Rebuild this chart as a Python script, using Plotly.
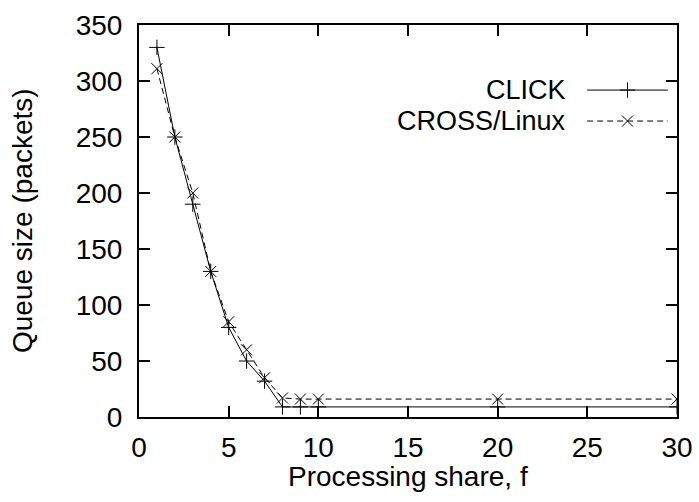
import plotly.graph_objects as go

# Processing share f and measured queue sizes
share = [1, 2, 3, 4, 5, 6, 7, 8, 9, 10, 20, 30]
click_queue = [330, 250, 190, 130, 80, 50, 32, 9, 9, 9, 9, 9]
cross_queue = [311, 250, 200, 130, 85, 60, 35, 17, 16, 16, 16, 16]

series_names = ["CLICK", "CROSS/Linux"]
x_ticks = [0, 5, 10, 15, 20, 25, 30]
y_ticks = [0, 50, 100, 150, 200, 250, 300, 350]

FONT = "Liberation Sans, Arial, sans-serif"
FS = 28

fig = go.Figure()

fig.add_trace(go.Scatter(
    x=share, y=click_queue, mode="lines+markers", name=series_names[0],
    line=dict(color="black", width=1),
    marker=dict(symbol="cross-thin", size=11, line=dict(color="black", width=1)),
    showlegend=False,
))
fig.add_trace(go.Scatter(
    x=share, y=cross_queue, mode="lines+markers", name=series_names[1],
    line=dict(color="black", width=1, dash="6px,4px"),
    marker=dict(symbol="x-thin", size=11, line=dict(color="black", width=1)),
    showlegend=False,
))

# Key drawn gnuplot-style: label on the left, line sample on the right
key_rows = [0.834, 0.755]
key_dash = ["solid", "6px,4px"]
key_symbol = ["cross-thin", "x-thin"]
for name, ky, dash, sym in zip(series_names, key_rows, key_dash, key_symbol):
    fig.add_trace(go.Scatter(
        x=[0.833, 0.983], y=[ky, ky], mode="lines", xaxis="x2", yaxis="y2",
        line=dict(color="black", width=1, dash=dash), showlegend=False, hoverinfo="skip",
    ))
    fig.add_trace(go.Scatter(
        x=[0.908], y=[ky], mode="markers", xaxis="x2", yaxis="y2",
        marker=dict(symbol=sym, size=11, line=dict(color="black", width=1)),
        showlegend=False, hoverinfo="skip",
    ))
    fig.add_annotation(
        x=0.797, y=ky, xref="paper", yref="paper", text=name, showarrow=False,
        xanchor="right", yanchor="middle", font=dict(family=FONT, size=27, color="black"),
    )

# x-axis title placed below the tick labels
fig.add_annotation(
    x=0.5, y=-0.152, xref="paper", yref="paper", text="Processing share, f",
    showarrow=False, xanchor="center", yanchor="middle",
    font=dict(family=FONT, size=FS, color="black"),
)

# y-axis title, rotated, centred on the plot area
fig.add_annotation(
    x=(22 - 139) / 538, y=0.5, xref="paper", yref="paper", text="Queue size (packets)",
    showarrow=False, textangle=-90, xanchor="center", yanchor="middle",
    font=dict(family=FONT, size=FS, color="black"),
)

axis_common = dict(
    showline=True, linecolor="black", linewidth=2, mirror="ticks",
    ticks="inside", ticklen=11, tickwidth=2, tickcolor="black",
    showgrid=False, zeroline=False, automargin=False,
    tickfont=dict(family=FONT, size=FS, color="black"),
)

fig.update_layout(
    width=699, height=502,
    margin=dict(l=139, r=22, t=25, b=85),
    paper_bgcolor="white", plot_bgcolor="white",
    xaxis=dict(
        range=[0, 30], tickvals=x_ticks, ticktext=[str(v) for v in x_ticks],
        ticklabelstandoff=4,
        **axis_common,
    ),
    yaxis=dict(
        range=[0, 350], tickvals=y_ticks, ticktext=[str(v) for v in y_ticks],
        ticklabelstandoff=9,
        **axis_common,
    ),
    xaxis2=dict(overlaying="x", range=[0, 1], visible=False),
    yaxis2=dict(overlaying="y", range=[0, 1], visible=False),
)

fig.write_html("out.html")
